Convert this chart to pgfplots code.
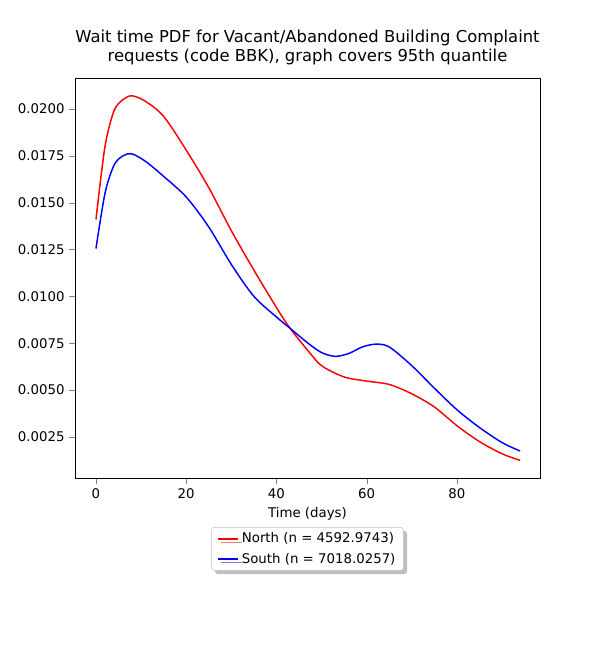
\documentclass[border=0pt]{standalone}
\usepackage{pgfplots}
\pgfplotsset{compat=1.18}
\usepackage{fontspec}
\setmainfont{DejaVu Sans}
\usetikzlibrary{shadows}
\begin{document}
\begin{tikzpicture}
\path (-56.25pt,-129pt) rectangle (393.75pt,358.5pt);
\begin{axis}[
  scale only axis, width=348.75pt, height=300pt,
  xmin=-4.65, xmax=98.4, ymin=0.00031, ymax=0.02165,
  xtick={0,20,40,60,80},
  ytick={0.0025,0.005,0.0075,0.01,0.0125,0.015,0.0175,0.02},
  yticklabel style={/pgf/number format/.cd,fixed,fixed zerofill,precision=4},
  scaled y ticks=false,
  /pgf/number format/assume math mode=true,
  tick label style={font=\fontsize{10}{12}\selectfont},
  label style={font=\fontsize{10}{12}\selectfont},
  tick align=outside, tick pos=left,
  xlabel={Time (days)},
  title={Wait time PDF for Vacant/Abandoned Building Complaint\\requests (code BBK), graph covers 95th quantile},
  title style={align=center,font=\fontsize{12.3}{14.3}\selectfont},
  legend style={at={(0.5,-0.123)},anchor=north,font=\fontsize{10}{12}\selectfont,
    draw=black!25,rounded corners=2pt,drop shadow,fill=white,row sep=2pt,inner xsep=4pt},
  legend cell align=left,
  legend image code/.code={\draw[#1,sharp plot] (0cm,0cm) -- (0.55cm,0cm);},
]
\addplot[red,line width=1.1pt,smooth] coordinates {
(0,0.0141)(2,0.0180)(4,0.0199)(6,0.0205)(8,0.0207)(11,0.0204)(15,0.0196)(20,0.0178)(25,0.0158)(30,0.0135)(35,0.0114)(40,0.0094)(43,0.0083)(47,0.0071)(50,0.0063)(55,0.00570)(60,0.00548)(65,0.00530)(70,0.00480)(75,0.00410)(80,0.00310)(85,0.00225)(90,0.00160)(94,0.00125)};
\addlegendentry{North (n = 4592.9743)}
\addplot[blue,line width=1.1pt,smooth] coordinates {
(0,0.01255)(2,0.0155)(4,0.0170)(6,0.0175)(8,0.0176)(11,0.0172)(15,0.0164)(20,0.0153)(25,0.0137)(30,0.0117)(35,0.0100)(40,0.0089)(43,0.0083)(47,0.0075)(50,0.00700)(53,0.00680)(56,0.00695)(59,0.00730)(62,0.00745)(65,0.00730)(70,0.00630)(75,0.00510)(80,0.00395)(85,0.00300)(90,0.00220)(94,0.00175)};
\addlegendentry{South (n = 7018.0257)}
\end{axis}
\end{tikzpicture}
\end{document}
